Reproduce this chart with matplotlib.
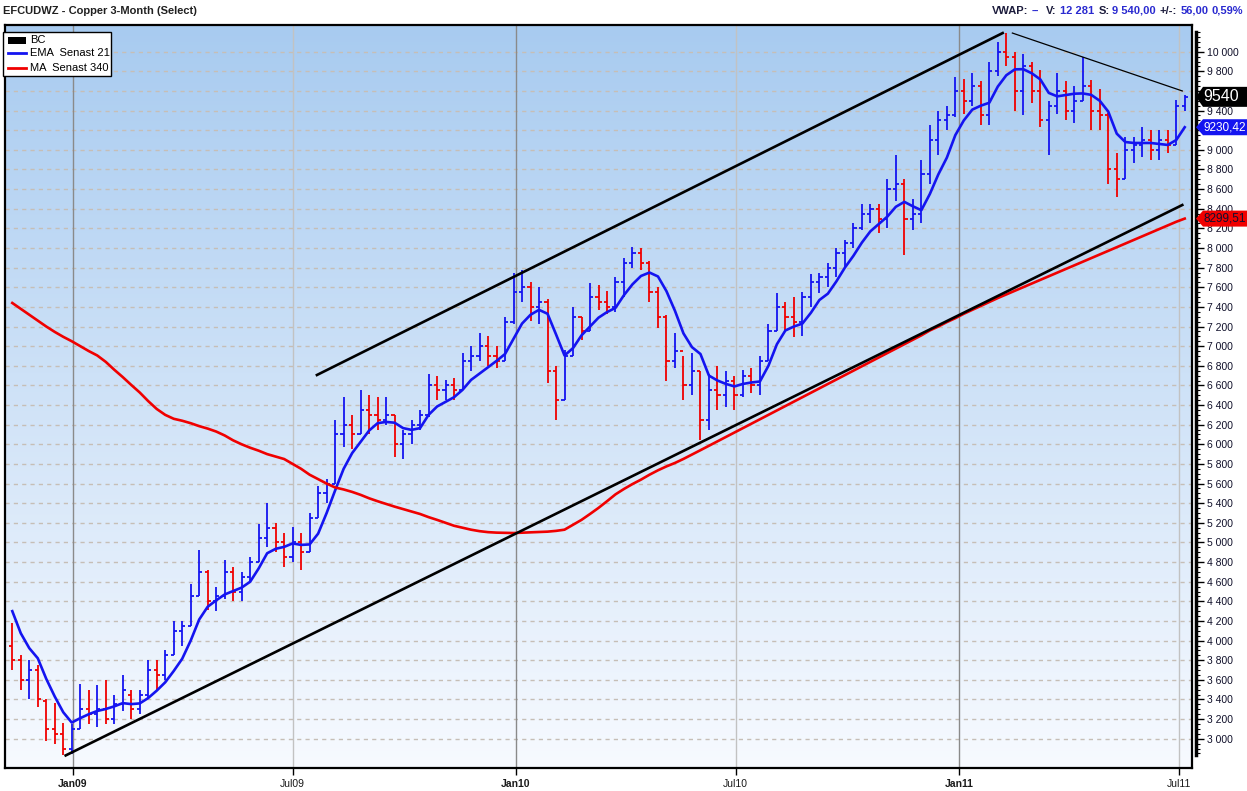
import numpy as np
import pandas as pd
import matplotlib
matplotlib.use('Agg')
import matplotlib.pyplot as plt
import matplotlib.dates as mdates
from matplotlib.patches import Rectangle, Polygon
from matplotlib.lines import Line2D
from matplotlib.ticker import FixedLocator, FuncFormatter

plt.rcParams['font.family'] = ['Liberation Sans', 'DejaVu Sans']

W, H = 1247, 791

# weekly OHLC bars, first week centred on 12 Nov 2008
first_week = '2008-11-12'
opens = [3950, 3800, 3600, 3700, 3380, 3100, 3050, 2900, 3100, 3300,
         3250, 3300, 3200, 3350, 3450, 3300, 3450, 3700, 3650, 3850,
         4100, 4150, 4450, 4700, 4400, 4450, 4700, 4500, 4650, 4800,
         5050, 5150, 5000, 4850, 5000, 4900, 5250, 5500, 5600, 6100,
         6200, 6100, 6350, 6300, 6250, 6300, 6000, 6100, 6200, 6300,
         6600, 6550, 6600, 6550, 6850, 6900, 7000, 6900, 6850, 7250,
         7550, 7600, 7400, 7450, 6750, 6450, 6900, 7300, 7150, 7500,
         7450, 7400, 7650, 7850, 7950, 7850, 7550, 7300, 6850, 6950,
         6600, 6750, 6250, 6550, 6500, 6650, 6500, 6700, 6600, 6850,
         7150, 7400, 7300, 7250, 7500, 7650, 7700, 7800, 7950, 8050,
         8200, 8350, 8400, 8300, 8600, 8650, 8300, 8350, 8750, 9100,
         9300, 9350, 9600, 9500, 9650, 9350, 9800, 10000, 9950, 9600,
         9850, 9600, 9300, 9450, 9600, 9400, 9500, 9650, 9400, 9350,
         8800, 8700, 9000, 9050, 9100, 9000, 9100, 9050, 9450]
highs = [4180, 3850, 3800, 3750, 3400, 3360, 3160, 3150, 3560, 3500,
         3550, 3600, 3450, 3650, 3500, 3500, 3800, 3800, 3900, 4200,
         4200, 4580, 4920, 4720, 4550, 4820, 4750, 4700, 4850, 5190,
         5400, 5200, 5100, 5160, 5100, 5300, 5580, 5650, 6250, 6480,
         6300, 6550, 6500, 6480, 6480, 6300, 6150, 6250, 6350, 6720,
         6700, 6660, 6680, 6930, 7000, 7130, 7100, 7000, 7300, 7750,
         7780, 7650, 7600, 7480, 6800, 6960, 7400, 7300, 7640, 7620,
         7560, 7700, 7900, 8010, 8000, 7870, 7600, 7320, 7130, 6900,
         6930, 6750, 6720, 6800, 6750, 6700, 6760, 6780, 6900, 7230,
         7540, 7450, 7500, 7550, 7740, 7750, 7850, 8000, 8080, 8250,
         8450, 8450, 8450, 8700, 8950, 8700, 8500, 8900, 9250, 9400,
         9450, 9740, 9720, 9780, 9700, 9900, 10100, 10190, 10000, 9980,
         9900, 9810, 9500, 9780, 9700, 9650, 9950, 9710, 9620, 9380,
         8970, 9130, 9130, 9230, 9200, 9200, 9200, 9510, 9560]
lows = [3700, 3500, 3400, 3320, 2980, 2950, 2830, 2840, 3100, 3150,
        3120, 3150, 3150, 3280, 3200, 3250, 3400, 3500, 3600, 3850,
        3950, 4150, 4450, 4310, 4300, 4420, 4400, 4400, 4600, 4800,
        4950, 4900, 4750, 4800, 4720, 4900, 5250, 5400, 5600, 5970,
        5950, 6100, 6100, 6150, 6200, 5870, 5850, 6000, 6150, 6280,
        6450, 6450, 6450, 6550, 6750, 6850, 6800, 6780, 6850, 7230,
        7450, 7260, 7230, 6620, 6250, 6450, 6900, 7060, 7150, 7370,
        7330, 7350, 7500, 7800, 7780, 7450, 7190, 6650, 6780, 6450,
        6500, 6040, 6150, 6350, 6380, 6350, 6480, 6520, 6500, 6850,
        7150, 7160, 7090, 7100, 7400, 7540, 7600, 7700, 7810, 8000,
        8180, 8250, 8150, 8200, 8480, 7930, 8180, 8250, 8650, 8950,
        9200, 9330, 9370, 9450, 9250, 9250, 9750, 9850, 9400, 9350,
        9480, 9230, 8950, 9370, 9300, 9270, 9500, 9200, 9200, 8650,
        8520, 8700, 8870, 8930, 8900, 8900, 8970, 9050, 9400]
closes = [3800, 3600, 3700, 3400, 3100, 3050, 2900, 3100, 3300, 3250,
          3300, 3200, 3350, 3500, 3300, 3450, 3700, 3650, 3850, 4100,
          4150, 4450, 4700, 4400, 4450, 4700, 4500, 4650, 4800, 5050,
          5150, 5000, 4850, 5000, 4900, 5250, 5500, 5600, 6100, 6200,
          6100, 6350, 6300, 6250, 6300, 6000, 6100, 6200, 6300, 6600,
          6550, 6600, 6550, 6850, 6900, 7000, 6900, 6850, 7250, 7550,
          7600, 7400, 7450, 6750, 6450, 6900, 7300, 7150, 7500, 7450,
          7400, 7650, 7850, 7950, 7850, 7550, 7300, 6850, 6950, 6600,
          6750, 6250, 6550, 6500, 6650, 6500, 6700, 6600, 6850, 7150,
          7400, 7300, 7250, 7500, 7650, 7700, 7800, 7950, 8050, 8200,
          8350, 8400, 8300, 8600, 8650, 8300, 8350, 8750, 9100, 9300,
          9350, 9600, 9500, 9650, 9350, 9800, 10000, 9950, 9600, 9850,
          9600, 9300, 9450, 9600, 9400, 9500, 9650, 9400, 9350, 8800,
          8700, 9000, 9050, 9100, 9000, 9100, 9050, 9450, 9540]

ema21 = [4300, 4075, 3923, 3820, 3610, 3430, 3270, 3165, 3210, 3250,
         3283, 3303, 3330, 3363, 3353, 3360, 3415, 3490, 3575, 3690,
         3815, 4000, 4215, 4345, 4410, 4470, 4505, 4540, 4600, 4735,
         4890, 4935, 4955, 4990, 4975, 4980, 5090, 5300, 5530, 5750,
         5910, 6025, 6140, 6215, 6228, 6220, 6165, 6147, 6165, 6300,
         6385, 6432, 6480, 6555, 6656, 6720, 6785, 6850, 6920, 7075,
         7230, 7320, 7370, 7330, 7120, 6905, 6980, 7110, 7200, 7290,
         7347, 7390, 7520, 7630, 7715, 7750, 7710, 7560, 7360, 7130,
         6990, 6920, 6700, 6650, 6615, 6590, 6615, 6630, 6640, 6800,
         7020, 7160, 7200, 7230, 7340, 7470, 7535, 7660, 7800, 7920,
         8055, 8170, 8245, 8320, 8420, 8470, 8425, 8385, 8550, 8750,
         8920, 9150, 9300, 9410, 9450, 9480, 9645, 9760, 9820, 9822,
         9780, 9718, 9580, 9545, 9559, 9572, 9575, 9560, 9500, 9390,
         9165, 9080, 9070, 9070, 9070, 9060, 9050, 9100, 9230.42]
ma340 = [7440, 7380, 7320, 7260, 7200, 7145, 7095, 7050, 7000, 6950,
         6905, 6840, 6760, 6685, 6605, 6528, 6440, 6360, 6300, 6260,
         6240, 6215, 6185, 6160, 6130, 6090, 6040, 6000, 5965, 5935,
         5900, 5875, 5850, 5800, 5750, 5690, 5645, 5600, 5560, 5540,
         5515, 5485, 5450, 5420, 5392, 5365, 5340, 5315, 5290, 5258,
         5230, 5200, 5170, 5150, 5130, 5115, 5105, 5100, 5098, 5096,
         5100, 5103, 5106, 5110, 5118, 5130, 5180, 5230, 5290, 5352,
         5420, 5490, 5545, 5595, 5640, 5690, 5735, 5775, 5810, 5851,
         5895, 5940, 5985, 6030, 6075, 6120, 6165, 6210, 6255, 6300,
         6345, 6390, 6435, 6480, 6525, 6570, 6615, 6660, 6705, 6750,
         6795, 6840, 6885, 6930, 6975, 7020, 7065, 7110, 7160, 7200,
         7245, 7285, 7330, 7370, 7410, 7450, 7490, 7527, 7564, 7601,
         7638, 7675, 7712, 7749, 7786, 7823, 7860, 7897, 7934, 7971,
         8008, 8045, 8082, 8119, 8156, 8193, 8230, 8267, 8299.51]

# hand-drawn trend lines
channel_top_dates = ['2009-07-21', '2011-02-06']
channel_top_vals = [6706, 10190]
channel_low_dates = ['2008-12-26', '2011-07-04']
channel_low_vals = [2830, 8438]
resist_dates = ['2011-02-14', '2011-07-04']
resist_vals = [10190, 9600]

x_tick_dates = ['2009-01-01', '2009-07-01', '2010-01-01', '2010-07-01', '2011-01-01', '2011-07-01']
x_tick_labels = ['Jan09', 'Jul09', 'Jan10', 'Jul10', 'Jan11', 'Jul11']
y_ticks = list(range(3000, 10001, 200))

legend_labels = ['BC', 'EMA  Senast 21', 'MA  Senast 340']
header_title = 'EFCUDWZ - Copper 3-Month (Select)'
header_info = [('VWAP:', 992), ('--', 1032), ('V:', 1046), ('12 281', 1060), ('S:', 1099),
               ('9 540,00', 1112), ('+/-:', 1159), ('56,00', 1181), ('0,59%', 1212)]

BLUE = '#1414f0'
RED = '#f00000'

dates = pd.date_range(first_week, periods=len(closes), freq='7D')
xd = mdates.date2num(dates)

fig = plt.figure(figsize=(W / 100, H / 100), dpi=100)
ax = fig.add_axes([5 / W, 1 - 768 / H, 1187 / W, 743 / H])

ymin, ymax = 2702, 10272
xmin = mdates.date2num(pd.Timestamp('2008-11-06'))
xmax = mdates.date2num(pd.Timestamp('2011-07-12'))

# background gradient
g = np.linspace(0, 1, 256)[:, None, None]
c_top = np.array([168, 203, 240]) / 255
c_bot = np.array([247, 250, 255]) / 255
img = c_top * (1 - g) + c_bot * g
ax.imshow(img, extent=[0, 1, 0, 1], transform=ax.transAxes, aspect='auto',
          zorder=0, interpolation='bilinear')

# grid
for v in y_ticks:
    ax.axhline(v, color='#c6beb6', lw=1, ls=(0, (3, 3)), zorder=1)
tick_nums = mdates.date2num(pd.to_datetime(x_tick_dates))
for t, lab in zip(tick_nums, x_tick_labels):
    ax.axvline(t, color='#8a8a8a' if lab.startswith('Jan') else '#c2c2c2', lw=1, zorder=1)

# OHLC bars
tick = 2.6
for x, o, h, l, c in zip(xd, opens, highs, lows, closes):
    col = BLUE if c > o else (RED if c < o else 'black')
    ax.plot([x, x], [l, h], color=col, lw=1.3, solid_capstyle='butt', zorder=3)
    ax.plot([x - tick, x], [o, o], color=col, lw=1.3, solid_capstyle='butt', zorder=3)
    ax.plot([x, x + tick], [c, c], color=col, lw=1.3, solid_capstyle='butt', zorder=3)

ax.plot(xd, ema21, color=BLUE, lw=1.9, zorder=4)
ax.plot(xd, ma340, color=RED, lw=1.9, zorder=4)

ax.plot(pd.to_datetime(channel_top_dates), channel_top_vals, color='black', lw=1.9, zorder=5)
ax.plot(pd.to_datetime(channel_low_dates), channel_low_vals, color='black', lw=1.9, zorder=5)
ax.plot(pd.to_datetime(resist_dates), resist_vals, color='black', lw=0.9, zorder=5)

ax.set_xlim(xmin, xmax)
ax.set_ylim(ymin, ymax)
ax.set_yticks([])
ax.set_xticks(tick_nums)
ax.set_xticklabels(x_tick_labels)
ax.tick_params(axis='x', direction='out', length=5, width=1, labelsize=7.5, pad=3,
               labelcolor='#1a1a1a')
for lab in ax.get_xticklabels():
    if lab.get_text().startswith('Jan'):
        lab.set_fontweight('bold')
for s in ax.spines.values():
    s.set_linewidth(1.6)
    s.set_color('black')

# price scale on the right; labels under the last-price and EMA flags are covered
covered = [closes[-1], ema21[-1]]


def price_fmt(v, p):
    if any(abs(v - c) < 80 for c in covered):
        return ''
    return f'{int(v):,}'.replace(',', ' ')


ax2 = fig.add_axes([1196 / W, 1 - 768 / H, 0.0001, 743 / H])
ax2.set_ylim(ymin, ymax)
ax2.patch.set_visible(False)
for s in ['top', 'bottom', 'left']:
    ax2.spines[s].set_visible(False)
ax2.spines['right'].set_linewidth(2.5)
ax2.spines['right'].set_bounds(2830, 10200)
ax2.set_xticks([])
ax2.yaxis.tick_right()
ax2.yaxis.set_major_locator(FixedLocator(y_ticks))
ax2.yaxis.set_minor_locator(FixedLocator(list(range(2850, 10201, 50))))
ax2.yaxis.set_major_formatter(FuncFormatter(price_fmt))
ax2.tick_params(axis='y', which='major', length=6, width=1, labelsize=7.5, pad=2,
                labelcolor='#10102a')
ax2.tick_params(axis='y', which='minor', length=3, width=0.8)


def tag(v, text, fc, tc, fs, half):
    yf = ax.transData.transform((xmin, v))[1] / H
    hf = half / H
    xt, xb = 1196 / W, 1203 / W
    fig.add_artist(Polygon([[xt, yf], [xb, yf + hf], [1, yf + hf], [1, yf - hf], [xb, yf - hf]],
                           closed=True, transform=fig.transFigure, fc=fc, ec='none', zorder=10))
    fig.text(1203 / W, yf, text, color=tc, fontsize=fs, va='center', ha='left', zorder=11)


tag(closes[-1], f'{closes[-1]}', 'black', 'white', 11.5, 10)
tag(ema21[-1], f'{ema21[-1]:.2f}'.replace('.', ','), BLUE, 'white', 8.5, 8)
tag(ma340[-1], f'{ma340[-1]:.2f}'.replace('.', ','), RED, '#101030', 8.5, 8)

# legend box
fig.add_artist(Rectangle((3 / W, 1 - 76 / H), 108 / W, 44 / H, transform=fig.transFigure,
                         fc='white', ec='black', lw=1, zorder=10))
fig.add_artist(Rectangle((8 / W, 1 - 44 / H), 18 / W, 7 / H, transform=fig.transFigure,
                         fc='black', ec='none', zorder=11))
for yy, col in zip([53, 68], [BLUE, RED]):
    fig.add_artist(Line2D([8 / W, 26 / W], [1 - yy / H] * 2, color=col, lw=2,
                          transform=fig.transFigure, zorder=11))
for yy, lab in zip([40, 53, 68], legend_labels):
    fig.text(30 / W, 1 - yy / H, lab, fontsize=8, va='center', ha='left', color='black', zorder=11)

# header
fig.text(3 / W, 1 - 10.5 / H, header_title, fontsize=8, fontweight='bold', va='center',
         ha='left', color='#202020')
for txt, xp in header_info:
    col = '#1c1c3c' if txt.endswith(':') else '#2a2ad0'
    fig.text(xp / W, 1 - 10.5 / H, txt, fontsize=8, fontweight='bold', va='center',
             ha='left', color=col)

fig.savefig('out.png', dpi=100)
